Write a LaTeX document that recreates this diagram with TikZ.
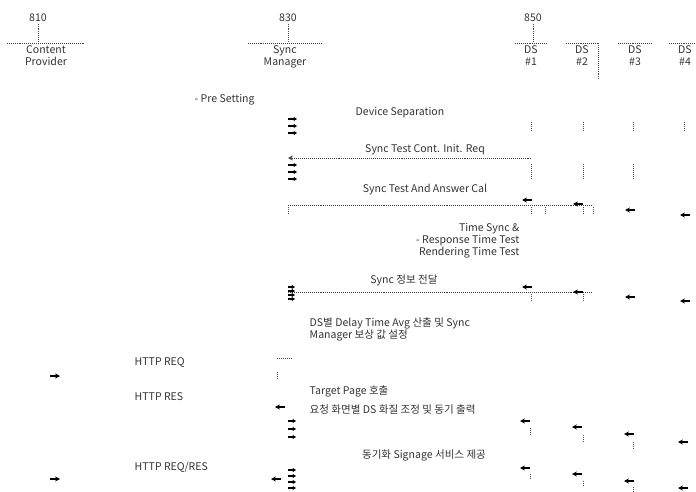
\documentclass[tikz,border=0pt]{standalone}
\usepackage{fontspec}
\setmainfont{Noto Sans CJK KR}
\usetikzlibrary{arrows.meta, calc, positioning}

\begin{document}
\begin{tikzpicture}[x=0.025cm, y=-0.025cm,
    every node/.style={font=\fontsize{7.5}{8.5}\selectfont, text=black!80, inner sep=1pt},
    head/.style={align=center, anchor=north, minimum height=0.5cm, inner sep=1.5pt},
    tag/.style={anchor=center},
    msg/.style={densely dotted, black!75},
    stub/.style={densely dotted, black!70},
    tip/.style={-{Stealth[length=3.5pt, width=3.5pt]}, black, thick},
    stk/.style={-{Stealth[length=2.5pt, width=3pt]}, black, thick}]

    \useasboundingbox (0,0) rectangle (696,492);

    % lifeline heads
    \node[head, minimum width=1.95cm] (cp) at (46,43) {Content\\Provider};
    \node[head, minimum width=1.85cm] (sm) at (285,43) {Sync\\Manager};
    \node[head, minimum width=0.8cm] (ds1) at (531,43) {DS\\\#1};
    \node[head, minimum width=0.8cm] (ds2) at (582,43) {DS\\\#2};
    \node[head, minimum width=0.85cm] (ds3) at (635,43) {DS\\\#3};
    \node[head, minimum width=0.8cm] (ds4) at (685,43) {DS\\\#4};
    \foreach \n in {cp, sm, ds1, ds2, ds3, ds4}
        \draw[msg] (\n.north west) -- (\n.north east);
    \draw[stub] (ds2.north east) -- ++(0,36);

    \node[tag] (n810) at (38,18) {810};
    \node[tag] (n830) at (288,18) {830};
    \node[tag] (n850) at (533,18) {850};
    \draw[stub] (n810.south) -- (cp.north -| n810.south);
    \draw[stub] (n830.south) -- (sm.north -| n830.south);
    \draw[stub] (n850.south) -- (ds1.north -| n850.south);

    % lifeline x positions
    \coordinate (smL) at (288,0);
    \coordinate (d1L) at (531,0);
    \coordinate (d2L) at (583,0);
    \coordinate (d3L) at (633,0);
    \coordinate (d4L) at (684,0);

    % pre setting
    \node[anchor=west] (pre) at (193,100) {- Pre Setting};
    \node (sep) at (400,113) {Device Separation};
    \foreach \k in {0,1,2}
        \draw[stk] (288,119+7*\k) -- ++(9,0);
    \foreach \c in {d1L, d2L, d3L, d4L}
        \draw[stub] (\c |- 0,122) -- (\c |- 0,131);

    % sync test init
    \node (init) at (425,150) {Sync Test Cont. Init. Req};
    \draw[msg, -{Stealth[length=3.5pt, width=3.5pt]}] (d1L |- 0,158) -- (smL |- 0,158);
    \foreach \k in {0,1,2}
        \draw[stk] (288,165+7*\k) -- ++(9,0);
    \foreach \c in {d1L, d2L, d3L}
        \draw[stub] (\c |- 0,164) -- (\c |- 0,178);

    % sync test answer
    \node (ans) at (425,190) {Sync Test And Answer Cal};
    \draw[msg] (smL |- 0,205) -- (592,205);
    \foreach \x/\y in {522/200, 573/204, 625/210, 680/215}
        \draw[tip] (\x+10,\y) -- (\x,\y);
    \foreach \x in {288, 531, 545, 583, 593}
        \draw[stub] (\x,207) -- (\x,213);

    \node[align=right, anchor=north east] (tst) at (521,222) {Time Sync \&\\- Response Time Test\\Rendering Time Test};

    % sync info
    \node (info) at (404,280) {Sync 정보 전달};
    \draw[msg] (smL |- 0,292) -- (592,292);
    \foreach \k in {0,1,2,3}
        \draw[stk] (288,287+4*\k) -- ++(7,0);
    \foreach \x/\y in {522/287, 573/292, 625/297, 680/301}
        \draw[tip] (\x+10,\y) -- (\x,\y);
    \foreach \x in {531, 583}
        \draw[stub] (\x,294) -- (\x,300);

    \node[align=left, anchor=north west] (avg) at (308,316) {DS별 Delay Time Avg 산출 및 Sync\\Manager 보상 값 설정};

    % http request / response
    \draw[stub] (277,358) -- (292,358);
    \draw[stub] (277,372) -- (277,378);
    \node[anchor=west] (req) at (133,363) {HTTP REQ};
    \draw[tip] (50,376) -- (60,376);
    \node[anchor=west] (tgt) at (308,391) {Target Page 호출};
    \node[anchor=west] (res) at (133,397) {HTTP RES};
    \draw[tip] (285,407) -- (275,407);
    \node[anchor=west] (adj) at (308,410) {요청 화면별 DS 화질 조정 및 동기 출력};
    \foreach \k in {0,1,2}
        \draw[stk] (288,421+8*\k) -- ++(8,0);
    \foreach \x/\y in {520/421, 572/427, 624/434, 678/442}
        \draw[tip] (\x+10,\y) -- (\x,\y);
    \foreach \x/\y in {530/428, 583/435, 633/442}
        \draw[stub] (\x,\y) -- (\x,\y+6);

    % signage service
    \node (svc) at (424,455) {동기화 Signage 서비스 제공};
    \node[anchor=west] (rr) at (133,467) {HTTP REQ/RES};
    \draw[tip] (50,479) -- (60,479);
    \draw[tip] (281,479) -- (271,479);
    \foreach \k in {0,1,2,3}
        \draw[stk] (288,470+6*\k) -- ++(8,0);
    \foreach \x/\y in {520/468, 572/474, 624/481, 678/488}
        \draw[tip] (\x+10,\y) -- (\x,\y);
    \foreach \x/\y in {530/474, 583/481, 633/487}
        \draw[stub] (\x,\y) -- (\x,\y+5);
\end{tikzpicture}
\end{document}
